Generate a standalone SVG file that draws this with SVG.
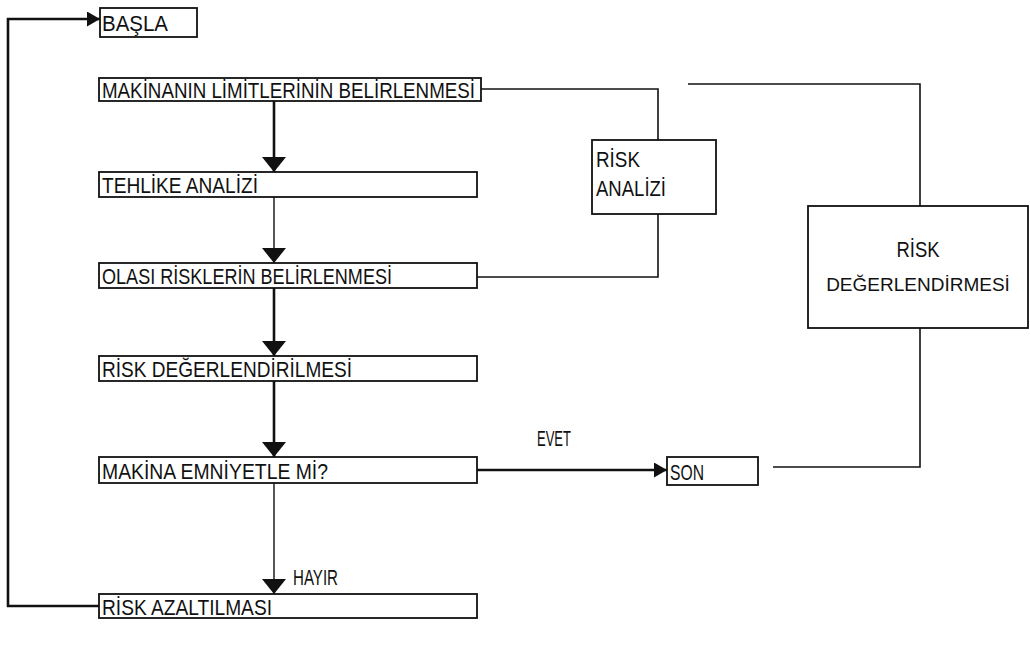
<svg xmlns="http://www.w3.org/2000/svg" width="1030" height="653" viewBox="0 0 1030 653">
  <style>
    .box { fill: #fff; stroke: #111; stroke-width: 1.8; }
    .lbl { font-family: "Liberation Sans Narrow", "Liberation Sans", "DejaVu Sans Condensed", sans-serif; font-size: 22px; fill: #111; }
    .lbl.sm { font-size: 19px; }
    .thick { fill: none; stroke: #111; stroke-width: 2.6; }
    .thin { fill: none; stroke: #111; stroke-width: 1.4; }
    .wire { fill: none; stroke: #111; stroke-width: 1.6; }
  </style>
  <defs>
    <marker id="head" viewBox="0 0 15 24" refX="15" refY="12" markerWidth="15" markerHeight="24" markerUnits="userSpaceOnUse" orient="auto">
      <path d="M0,0 L15,12 L0,24 Z" fill="#111"/>
    </marker>
    <marker id="headS" viewBox="0 0 13 15" refX="13" refY="7.5" markerWidth="13" markerHeight="15" markerUnits="userSpaceOnUse" orient="auto">
      <path d="M0,0 L13,7.5 L0,15 Z" fill="#111"/>
    </marker>
  </defs>

  <!-- connectors -->
  <g id="connectors">
    <!-- main vertical flow -->
    <line class="thick" x1="274" y1="101" x2="274" y2="172" marker-end="url(#head)"/>
    <line class="thin" x1="274" y1="197" x2="274" y2="263" marker-end="url(#head)"/>
    <line class="thick" x1="274" y1="288" x2="274" y2="356" marker-end="url(#head)"/>
    <line class="thick" x1="274" y1="381" x2="274" y2="457" marker-end="url(#head)"/>
    <line class="thin" x1="274" y1="483" x2="274" y2="594" marker-end="url(#head)"/>
    <!-- yes branch -->
    <line class="thick" x1="477" y1="470" x2="667" y2="470" marker-end="url(#headS)"/>
    <!-- loop back to start -->
    <path class="thick" d="M100,606 H8 V19 H100" marker-end="url(#headS)"/>
    <!-- risk analysis bracket -->
    <path class="wire" d="M481,89 H658 V140"/>
    <path class="wire" d="M658,214 V277 H477"/>
    <!-- risk assessment bracket -->
    <path class="wire" d="M688,84 H920 V206"/>
    <path class="wire" d="M920,328 V467 H773"/>
  </g>

  <g id="basla">
    <rect class="box" x="100" y="8" width="97" height="29"/>
    <text class="lbl" x="102" y="31" textLength="66" lengthAdjust="spacingAndGlyphs">BAŞLA</text>
  </g>

  <g id="makine-limitleri">
    <rect class="box" x="99" y="78" width="382" height="23"/>
    <text class="lbl" x="102" y="98" textLength="373" lengthAdjust="spacingAndGlyphs">MAKİNANIN LİMİTLERİNİN BELİRLENMESİ</text>
  </g>

  <g id="tehlike-analizi">
    <rect class="box" x="99" y="172" width="378" height="25"/>
    <text class="lbl" x="102" y="193" textLength="156" lengthAdjust="spacingAndGlyphs">TEHLİKE ANALİZİ</text>
  </g>

  <g id="olasi-riskler">
    <rect class="box" x="99" y="263" width="378" height="25"/>
    <text class="lbl" x="102" y="284" textLength="290" lengthAdjust="spacingAndGlyphs">OLASI RİSKLERİN BELİRLENMESİ</text>
  </g>

  <g id="risk-degerlendirilmesi">
    <rect class="box" x="99" y="356" width="378" height="25"/>
    <text class="lbl" x="102" y="377" textLength="250" lengthAdjust="spacingAndGlyphs">RİSK DEĞERLENDİRİLMESİ</text>
  </g>

  <g id="makina-emniyetle">
    <rect class="box" x="99" y="457" width="378" height="26"/>
    <text class="lbl" x="102" y="479" textLength="226" lengthAdjust="spacingAndGlyphs">MAKİNA EMNİYETLE Mİ?</text>
  </g>

  <g id="risk-azaltilmasi">
    <rect class="box" x="99" y="594" width="378" height="24"/>
    <text class="lbl" x="102" y="615" textLength="170" lengthAdjust="spacingAndGlyphs">RİSK AZALTILMASI</text>
  </g>

  <g id="son">
    <rect class="box" x="667" y="457" width="91" height="28"/>
    <text class="lbl" x="670" y="480" textLength="34" lengthAdjust="spacingAndGlyphs">SON</text>
  </g>

  <g id="risk-analizi">
    <rect class="box" x="592" y="140" width="124" height="74"/>
    <text class="lbl" x="596" y="167" textLength="44" lengthAdjust="spacingAndGlyphs">RİSK</text>
    <text class="lbl" x="596" y="196" textLength="70" lengthAdjust="spacingAndGlyphs">ANALİZİ</text>
  </g>

  <g id="risk-degerlendirmesi">
    <rect class="box" x="808" y="206" width="220" height="122"/>
    <text class="lbl" x="918" y="257" text-anchor="middle" textLength="43" lengthAdjust="spacingAndGlyphs">RİSK</text>
    <text class="lbl sm" x="918" y="291" text-anchor="middle">DEĞERLENDİRMESİ</text>
  </g>

  <g id="edge-labels">
    <text class="lbl" x="537" y="446" textLength="34" lengthAdjust="spacingAndGlyphs">EVET</text>
    <text class="lbl" x="293" y="585" textLength="45" lengthAdjust="spacingAndGlyphs">HAYIR</text>
  </g>
</svg>
